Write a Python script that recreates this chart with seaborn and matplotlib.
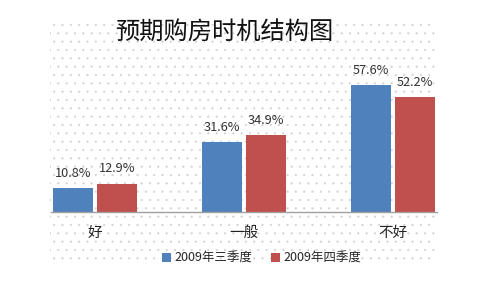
import matplotlib
matplotlib.use("Agg")
import matplotlib.pyplot as plt
import seaborn as sns
import pandas as pd
from matplotlib.patches import Rectangle, Patch

categories = ['好', '一般', '不好']
series_names = ['2009年三季度', '2009年四季度']
q3_values = [10.8, 31.6, 57.6]
q4_values = [12.9, 34.9, 52.2]
title = '预期购房时机结构图'

df = pd.DataFrame({
    'cat': categories * 2,
    'series': [series_names[0]] * 3 + [series_names[1]] * 3,
    'value': q3_values + q4_values,
})

sns.set_theme(style='white')
plt.rcParams['font.family'] = ['Noto Sans CJK SC', 'DejaVu Sans']
plt.rcParams['hatch.linewidth'] = 0.3

colors = ['#4F81BD', '#C0504D']
fig = plt.figure(figsize=(4.8, 2.88), dpi=100)

# dotted chart-area background
bg = Rectangle((50 / 480, (288 - 262) / 288), 386 / 480, 242 / 288,
               transform=fig.transFigure, facecolor='white', edgecolor='#d0d0d0',
               hatch='..', linewidth=0, zorder=-5)
fig.patches.append(bg)

ax = fig.add_axes([51 / 480, (288 - 212) / 288, 386 / 480, (212 - 60) / 288])
ax.set_zorder(5)
ax.patch.set_alpha(0)
sns.barplot(data=df, x='cat', y='value', hue='series', palette=colors,
            width=0.59, gap=0.11, ax=ax, legend=False, saturation=1,
            edgecolor='none', linewidth=0)
ax.set_xlim(-0.295, 2.295)
ax.set_ylim(0, (212 - 60) / 2.2)
for s in ['top', 'left', 'right']:
    ax.spines[s].set_visible(False)
ax.spines['bottom'].set_color('#a0a0a0')
ax.spines['bottom'].set_linewidth(1.0)
ax.set_yticks([])
ax.set_xlabel('')
ax.set_ylabel('')
ax.tick_params(axis='x', length=0, pad=10, labelsize=10.5, colors='#222222')

for cont in ax.containers:
    ax.bar_label(cont, labels=[f'{v:.1f}%' for v in cont.datavalues],
                 padding=6, fontsize=9.2, color='#333333')

fig.text(224 / 480, 1 - 32 / 288, title, ha='center', va='center',
         fontsize=17.5, color='#111111', zorder=6)

handles = [Patch(facecolor=c, edgecolor='none') for c in colors]
leg = fig.legend(handles, series_names, loc='center', bbox_to_anchor=(262 / 480, 1 - 258 / 288),
                 ncol=2, frameon=False, fontsize=9, handlelength=0.7, handleheight=0.7,
                 handletextpad=0.3, columnspacing=1.5)
leg.set_zorder(6)

fig.savefig('out.png', dpi=100)
